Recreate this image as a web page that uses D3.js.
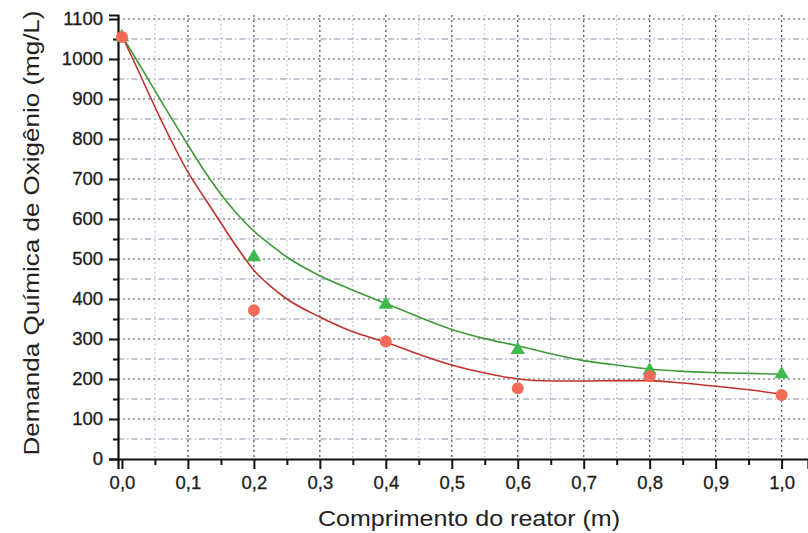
<!DOCTYPE html>
<html>
<head>
<meta charset="utf-8">
<script src="https://cdn.jsdelivr.net/npm/d3@7"></script>
<style>
  body { margin: 0; background: #fff; }
  svg { display: block; }
</style>
</head>
<body>
<div id="chart"></div>
<script>
// measured points
var pointX = [0, 0.2, 0.4, 0.6, 0.8, 1.0];
var greenPts = [1055, 505, 386, 273, 221, 212];
var redPts = [1055, 372, 294, 177, 207, 160];

// fitted curves
var fitX = [0, 0.025, 0.05, 0.075, 0.1, 0.125, 0.15, 0.175, 0.2, 0.225, 0.25, 0.3, 0.35, 0.4,
            0.45, 0.5, 0.55, 0.6, 0.65, 0.7, 0.75, 0.8, 0.85, 0.9, 0.95, 1.0];
var greenFit = [1058, 990, 921, 852, 785, 720, 662, 612, 570, 536, 505, 458, 422, 389,
                355, 324, 301, 283, 263, 246, 235, 225, 219, 216, 214, 212];
var redFit = [1058, 970, 880, 795, 717, 653, 590, 528, 472, 432, 400, 355, 318, 292,
              262, 235, 215, 200, 195, 195, 196, 196, 190, 182, 173, 162];

var xMajor = [0, 0.1, 0.2, 0.3, 0.4, 0.5, 0.6, 0.7, 0.8, 0.9, 1.0];
var xMinor = [0.05, 0.15, 0.25, 0.35, 0.45, 0.55, 0.65, 0.75, 0.85, 0.95];
var yMajor = [0, 100, 200, 300, 400, 500, 600, 700, 800, 900, 1000, 1100];
var yMinor = [50, 150, 250, 350, 450, 550, 650, 750, 850, 950, 1050];

function drawChart() {
  var width = 808, height = 533;
  var plotLeft = 118, plotRight = 808, plotTop = 15, plotBottom = 459;

  var svg = d3.select("#chart").append("svg")
      .attr("width", width)
      .attr("height", height);

  var x = d3.scaleLinear().domain([-0.006, 1.04]).range([plotLeft, plotRight]);
  var y = d3.scaleLinear().domain([0, 1110]).range([plotBottom, plotTop]);

  var fmt = function(d) { return d3.format(".1f")(d).replace(".", ","); };

  // grid
  var grid = svg.append("g");
  grid.selectAll(".hmin").data(yMinor).enter().append("line")
      .attr("x1", plotLeft).attr("x2", plotRight)
      .attr("y1", d => y(d)).attr("y2", d => y(d))
      .attr("stroke", "#8590a8").attr("stroke-width", 1)
      .attr("stroke-dasharray", "6,3,1.5,3");
  grid.selectAll(".hmaj").data(yMajor.slice(1)).enter().append("line")
      .attr("x1", plotLeft).attr("x2", plotRight)
      .attr("y1", d => y(d)).attr("y2", d => y(d))
      .attr("stroke", "#505468").attr("stroke-width", 1.1)
      .attr("stroke-dasharray", "2,3");
  grid.selectAll(".vmin").data(xMinor).enter().append("line")
      .attr("x1", d => x(d)).attr("x2", d => x(d))
      .attr("y1", plotTop).attr("y2", plotBottom)
      .attr("stroke", "#9aaac4").attr("stroke-width", 1)
      .attr("stroke-dasharray", "1.5,3");
  grid.selectAll(".vmaj").data(xMajor.slice(1)).enter().append("line")
      .attr("x1", d => x(d)).attr("x2", d => x(d))
      .attr("y1", plotTop).attr("y2", plotBottom)
      .attr("stroke", "#505468").attr("stroke-width", 1.3)
      .attr("stroke-dasharray", "2,3");

  // axes
  svg.append("g").attr("transform", "translate(0," + plotBottom + ")")
      .call(d3.axisBottom(x).tickValues(xMajor).tickFormat(fmt).tickSize(10).tickPadding(7));
  svg.append("g").attr("transform", "translate(0," + plotBottom + ")")
      .call(d3.axisBottom(x).tickValues(xMinor).tickFormat("").tickSize(6))
      .select(".domain").remove();
  svg.append("g").attr("transform", "translate(" + plotLeft + ",0)")
      .call(d3.axisLeft(y).tickValues(yMajor).tickFormat(d3.format("d")).tickSize(9).tickPadding(6));
  svg.append("g").attr("transform", "translate(" + plotLeft + ",0)")
      .call(d3.axisLeft(y).tickValues(yMinor).tickFormat("").tickSize(5))
      .select(".domain").remove();

  svg.selectAll(".domain").attr("stroke", "#111").attr("stroke-width", 2.2);
  svg.selectAll(".tick line").attr("stroke", "#111").attr("stroke-width", 2);
  svg.selectAll(".tick text")
      .attr("font-family", "Liberation Sans, Arial, sans-serif")
      .attr("font-size", 18.5).attr("fill", "#1c1c1c")
      .attr("stroke", "#1c1c1c").attr("stroke-width", 0.3);

  // curves
  var line = d3.line().curve(d3.curveMonotoneX)
      .x((d, i) => x(fitX[i])).y(d => y(d));
  svg.append("path").datum(greenFit).attr("d", line)
      .attr("fill", "none").attr("stroke", "#3f9a36").attr("stroke-width", 1.6);
  svg.append("path").datum(redFit).attr("d", line)
      .attr("fill", "none").attr("stroke", "#c0312b").attr("stroke-width", 1.6);

  // markers
  svg.selectAll(".tri").data(greenPts).enter().append("path")
      .attr("d", d3.symbol().type(d3.symbolTriangle).size(90))
      .attr("transform", (d, i) => "translate(" + x(pointX[i]) + "," + y(d) + ")")
      .attr("fill", "#3dba4c");
  svg.selectAll(".dot").data(redPts).enter().append("circle")
      .attr("cx", (d, i) => x(pointX[i])).attr("cy", d => y(d))
      .attr("r", 6)
      .attr("fill", "#f36a58");

  // titles
  svg.append("text")
      .attr("x", 469).attr("y", 526)
      .attr("text-anchor", "middle")
      .attr("font-family", "Liberation Sans, Arial, sans-serif")
      .attr("font-size", 22).attr("fill", "#222")
      .attr("textLength", 302).attr("lengthAdjust", "spacingAndGlyphs")
      .text("Comprimento do reator (m)");
  svg.append("text")
      .attr("transform", "translate(39,233) rotate(-90)")
      .attr("text-anchor", "middle")
      .attr("font-family", "Liberation Sans, Arial, sans-serif")
      .attr("font-size", 22).attr("fill", "#222")
      .attr("textLength", 445).attr("lengthAdjust", "spacingAndGlyphs")
      .text("Demanda Química de Oxigênio (mg/L)");
}

drawChart();
</script>
</body>
</html>
